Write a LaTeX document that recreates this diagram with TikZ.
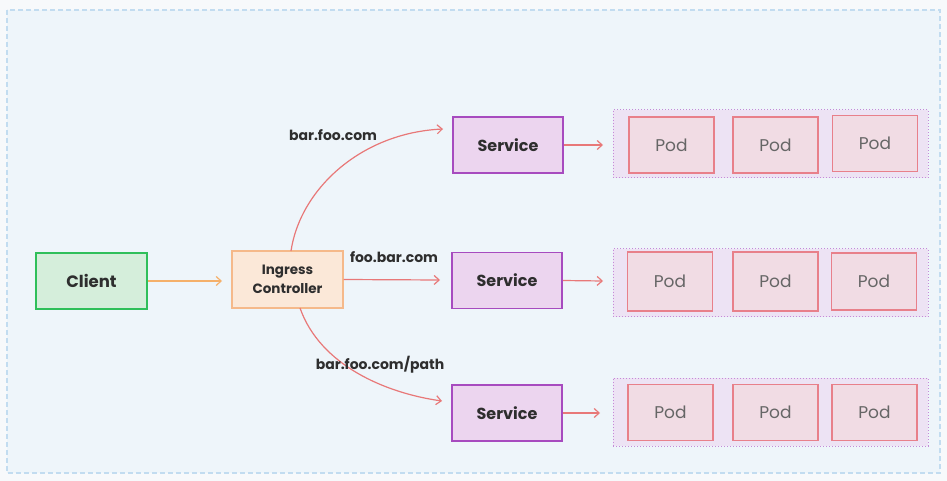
\documentclass[tikz,border=0pt]{standalone}
\usepackage{fontspec}
\setmainfont{Poppins}
\usetikzlibrary{arrows.meta}
\definecolor{bgout}{HTML}{F7F9FB}
\definecolor{bgin}{HTML}{EEF5FA}
\definecolor{bgline}{HTML}{C2DCF0}
\definecolor{clfill}{HTML}{D5EEDB}
\definecolor{cldraw}{HTML}{2FBF5A}
\definecolor{icfill}{HTML}{FBE8D8}
\definecolor{icdraw}{HTML}{F5B98A}
\definecolor{svfill}{HTML}{ECD5EF}
\definecolor{svdraw}{HTML}{A74BBF}
\definecolor{grfill}{HTML}{EDE3F4}
\definecolor{grdraw}{HTML}{C58AD8}
\definecolor{podfill}{HTML}{F1DCE4}
\definecolor{poddraw}{HTML}{E8808A}
\definecolor{arr}{HTML}{E87878}
\definecolor{arro}{HTML}{F5B06A}
\definecolor{txt}{HTML}{2E2E2E}
\definecolor{podtxt}{HTML}{666666}
\tikzset{
  box/.style={draw, line width=1.6pt, inner sep=0pt, align=center, text=txt},
  clientbox/.style={box, fill=clfill, draw=cldraw, minimum width=111pt, minimum height=56pt, font=\fontsize{16.5}{18}\selectfont\bfseries},
  ingbox/.style={box, fill=icfill, draw=icdraw, line width=1.2pt, minimum width=111pt, minimum height=57pt, font=\fontsize{13.5}{19}\selectfont\bfseries},
  svcbox/.style={box, fill=svfill, draw=svdraw, minimum width=110pt, minimum height=56pt, font=\fontsize{16}{18}\selectfont\bfseries},
  podbox/.style={box, fill=podfill, draw=poddraw, minimum width=85pt, minimum height=56pt, text=podtxt, font=\fontsize{17}{18}\selectfont},
  grp/.style={draw=grdraw, fill=grfill, line width=1pt, dotted, inner sep=0pt, minimum width=315pt, minimum height=68pt},
  conn/.style={draw=arr, line width=1.2pt, -{Straight Barb[length=5pt,width=9pt]}},
  conno/.style={draw=arro, line width=1.2pt, -{Straight Barb[length=5pt,width=9pt]}},
  lbl/.style={text=txt, font=\fontsize{14}{16}\selectfont\bfseries, inner sep=0pt}
}
\begin{document}
\begin{tikzpicture}[x=1pt,y=-1pt]
\useasboundingbox (0,0) rectangle (947,481);
\fill[bgout] (0,0) rectangle (947,481);
\draw[bgline, fill=bgin, line width=1.2pt, dash pattern=on 5pt off 3pt] (7,10) rectangle (940,473);

\node[clientbox] (client) at (91.5,281) {Client};
\node[ingbox] (ing) at (287.5,279.5) {Ingress\\Controller};
\node[svcbox] (s1) at (508,145) {Service};
\node[svcbox] (s2) at (507,280.5) {Service};
\node[svcbox] (s3) at (507,413) {Service};

\node[grp] (g1) at (770.5,144) {};
\node[grp] (g2) at (770.5,282.5) {};
\node[grp] (g3) at (770.5,412) {};

\node[podbox] (p11) at (671.5,145) {Pod};
\node[podbox] (p12) at (775.5,145) {Pod};
\node[podbox] (p13) at (875,143.5) {Pod};
\node[podbox, minimum height=59pt] (p21) at (670,281.5) {Pod};
\node[podbox, minimum height=59pt] (p22) at (775.5,281.5) {Pod};
\node[podbox, minimum height=57pt] (p23) at (874,281.5) {Pod};
\node[podbox] (p31) at (670.5,412.5) {Pod};
\node[podbox] (p32) at (775.5,412.5) {Pod};
\node[podbox] (p33) at (874.5,412.5) {Pod};

\coordinate (c1) at (222,281);
\draw[conno] (client.east) -- (c1);
\coordinate (e2) at (440,280);
\draw[conn] (ing.east) -- (e2);
\coordinate (st1) at (291,251);
\coordinate (e1) at (443,129);
\draw[conn] (st1) .. controls (300,190) and (360,133) .. (e1);
\coordinate (st3) at (300,308);
\coordinate (e3) at (442,401);
\draw[conn] (st3) .. controls (320,365) and (385,393) .. (e3);

\coordinate (a1) at (603,145);
\coordinate (a2) at (603,281);
\coordinate (a3) at (600,413);
\draw[conn] (s1.east) -- (a1);
\draw[conn] (s2.east) -- (a2);
\draw[conn] (s3.east) -- (a3);

\node[lbl] (l1) at (333,135) {bar.foo.com};
\node[lbl] (l2) at (394,257) {foo.bar.com};
\node[lbl] (l3) at (380,365) {bar.foo.com/path};
\end{tikzpicture}
\end{document}
